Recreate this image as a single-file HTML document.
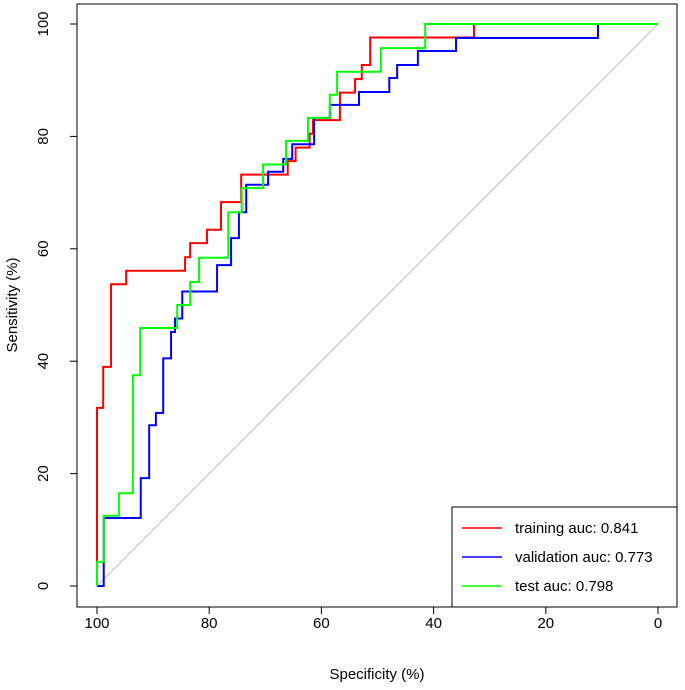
<!DOCTYPE html>
<html><head><meta charset="utf-8"><style>
body{margin:0;background:#fff}
svg text{font-family:"Liberation Sans",Arial,sans-serif;fill:#000}
</style></head><body>
<svg id="chart" width="685" height="685" xmlns="http://www.w3.org/2000/svg">
<rect x="0" y="0" width="685" height="685" fill="#fff"/>
<g id="plot"></g>
</svg>
<script>
const xTicks=[100,80,60,40,20,0];
const yTicks=[0,20,40,60,80,100];
const redSpec=[100,100,98.9,97.5,94.8,84.3,83.4,80.4,77.9,74.3,66.0,64.6,62.1,61.5,56.7,54.0,52.8,51.3,32.8,0];
const redSens=[0,31.7,39,53.7,56.1,58.5,61,63.4,68.3,73.2,75.6,78,80.5,82.9,87.8,90.2,92.7,97.6,100,100];
const blueSpec=[100,98.8,92.2,90.7,89.5,88.2,86.8,86.1,84.8,78.6,76.1,74.7,73.4,69.5,66.8,65.2,61.3,58.5,53.3,47.9,46.5,42.8,36.0,10.7,0];
const blueSens=[0,12.1,19.2,28.6,30.8,40.5,45.2,47.6,52.4,57.1,61.9,66.5,71.4,73.7,76,78.6,83.3,85.6,87.9,90.4,92.7,95.2,97.5,100,100];
const greenSpec=[100,100,98.8,96.1,93.6,92.3,85.7,83.4,81.8,76.6,74.2,70.4,66.3,62.4,58.5,57.2,49.4,41.5,0];
const greenSens=[0,4.3,12.5,16.5,37.5,45.9,50,54.1,58.4,66.5,70.8,75,79.2,83.3,87.4,91.5,95.7,100,100];
const legendLabels=["training auc: 0.841","validation auc: 0.773","test auc: 0.798"];
const legendColors=["#ff0000","#0000ff","#00ff00"];

const NS="http://www.w3.org/2000/svg";
const g=document.getElementById('plot');
function X(s){return 97+(100-s)*5.61;}
function Y(v){return 586-v*5.62;}
function mk(tag,attrs,parent){const e=document.createElementNS(NS,tag);for(const k in attrs)e.setAttribute(k,attrs[k]);(parent||g).appendChild(e);return e;}

let box=mk('rect',{x:77,y:4,width:600,height:603,fill:'none',stroke:'#000','stroke-width':1});



let diag=mk('line',{x1:X(100),y1:Y(0),x2:X(0),y2:Y(100),stroke:'#bebebe','stroke-width':1});



xTicks.forEach(t=>{
  let l=mk('line',{x1:X(t),y1:607,x2:X(t),y2:614,stroke:'#000'});
  
  
  let tx=mk('text',{x:X(t),y:628,'text-anchor':'middle','font-size':15});
  tx.textContent=t;
  
  
});
yTicks.forEach(t=>{
  let l=mk('line',{x1:70,y1:Y(t),x2:77,y2:Y(t),stroke:'#000'});
  
  
  let tx=mk('text',{x:0,y:0,'text-anchor':'middle','font-size':15,transform:`translate(48,${Y(t)}) rotate(-90)`});
  tx.textContent=t;
  
  
});
let xt=mk('text',{x:377,y:679,'text-anchor':'middle','font-size':15});
xt.textContent='Specificity (%)';


let yt=mk('text',{x:0,y:0,'text-anchor':'middle','font-size':15,transform:'translate(17,305) rotate(-90)'});
yt.textContent='Sensitivity (%)';



function stepPath(sp,se){
  let d=`M${X(sp[0])},${Y(se[0])}`;
  for(let i=1;i<sp.length;i++){d+=` L${X(sp[i])},${Y(se[i-1])} L${X(sp[i])},${Y(se[i])}`;}
  return d;
}
[[redSpec,redSens,'training-roc-curve'],[blueSpec,blueSens,'validation-roc-curve'],[greenSpec,greenSens,'test-roc-curve']].forEach((s,i)=>{
  let p=mk('path',{d:stepPath(s[0],s[1]),fill:'none',stroke:legendColors[i],'stroke-width':2});
  
  
});

let lb=mk('rect',{x:452,y:507,width:225,height:100,fill:'#fff',stroke:'#000'});


legendLabels.forEach((lab,i)=>{
  const y=528+i*29;
  let l=mk('line',{x1:462,y1:y,x2:502,y2:y,stroke:legendColors[i],'stroke-width':1.5});
  
  
  let t=mk('text',{x:515,y:y+5,'font-size':15});
  t.textContent=lab;
  
  
});
</script>
</body></html>
